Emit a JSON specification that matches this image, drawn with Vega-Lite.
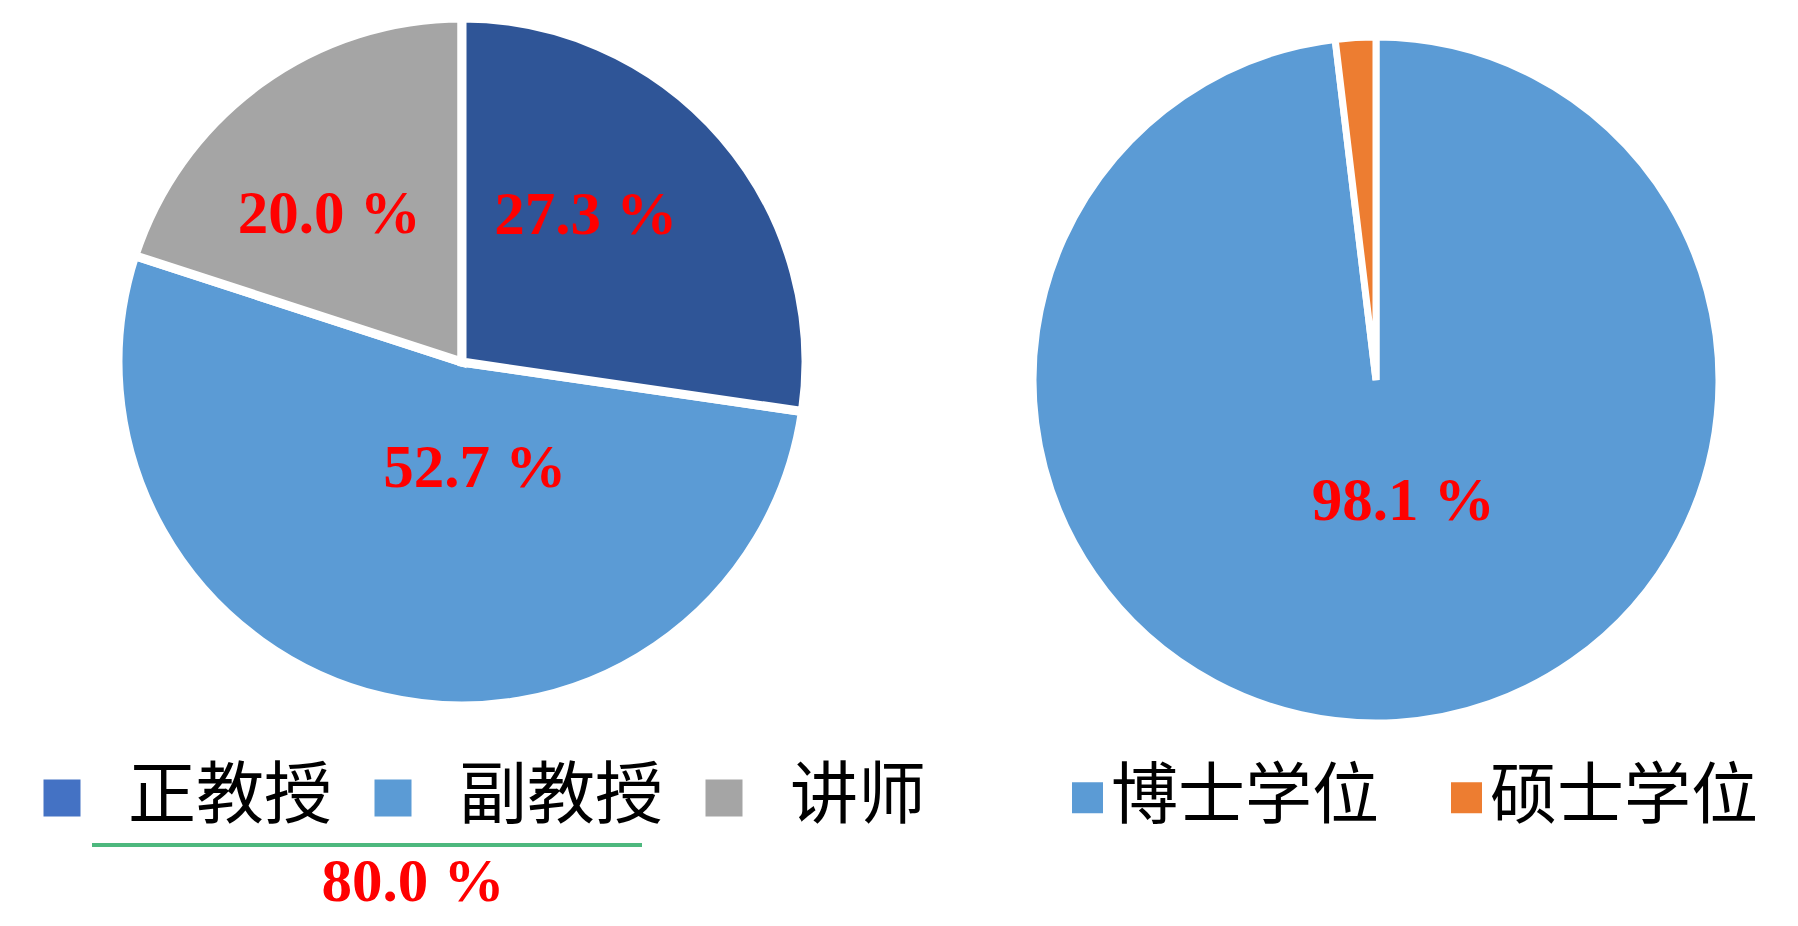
{
  "$schema": "https://vega.github.io/schema/vega-lite/v6.json",
  "background": "white",
  "padding": 0,
  "spacing": 30,
  "bounds": "flush",
  "config": {"view": {"stroke": null}, "font": "Noto Sans CJK SC"},
  "resolve": {"scale": {"color": "independent"}, "legend": {"color": "independent"}},
  "hconcat": [
    {
      "width": 924,
      "height": 724,
      "layer": [
        {
          "data": {"name": "zhicheng"},
          "mark": {"type": "arc", "radius": 344, "stroke": "white", "strokeWidth": 9},
          "encoding": {
            "theta": {"field": "占比", "type": "quantitative", "stack": true},
            "order": {"field": "序号", "type": "quantitative"},
            "color": {
              "field": "职称",
              "type": "nominal",
              "scale": {"domain": ["正教授", "副教授", "讲师"], "range": ["#4472C4", "#5B9BD5", "#A5A5A5"]},
              "legend": {
                "title": null,
                "orient": "none",
                "legendX": 28,
                "legendY": 764,
                "direction": "horizontal",
                "symbolType": "square",
                "symbolSize": 1369,
                "symbolStrokeWidth": 0,
                "symbolOpacity": 1,
                "labelFont": "Noto Sans CJK SC",
                "labelFontSize": 68,
                "labelColor": "#000000",
                "labelLimit": 500,
                "labelOffset": 32,
                "columnPadding": 26
              }
            }
          }
        },
        {
          "data": {"name": "zhicheng"},
          "mark": {"type": "arc", "radius": 344, "stroke": "white", "strokeWidth": 9},
          "encoding": {
            "theta": {"field": "占比", "type": "quantitative", "stack": true},
            "order": {"field": "序号", "type": "quantitative"},
            "color": {"value": "#2F5597"},
            "opacity": {"condition": {"test": "datum['职称'] === '正教授'", "value": 1}, "value": 0}
          }
        },
        {
          "data": {"name": "zhicheng"},
          "mark": {"type": "text", "radius": 190, "dx": -20, "dy": -22, "font": "Liberation Serif", "fontWeight": "bold", "fontSize": 61, "align": "center", "baseline": "middle"},
          "encoding": {
            "theta": {"field": "占比", "type": "quantitative", "stack": true},
            "order": {"field": "序号", "type": "quantitative"},
            "text": {"field": "标签", "type": "nominal"},
            "color": {"value": "#FF0000"},
            "opacity": {"condition": {"test": "datum['职称'] === '正教授'", "value": 1}, "value": 0}
          }
        },
        {
          "data": {"name": "zhicheng"},
          "mark": {"type": "text", "radius": 111, "dx": 38, "dy": -1, "font": "Liberation Serif", "fontWeight": "bold", "fontSize": 61, "align": "center", "baseline": "middle"},
          "encoding": {
            "theta": {"field": "占比", "type": "quantitative", "stack": true},
            "order": {"field": "序号", "type": "quantitative"},
            "text": {"field": "标签", "type": "nominal"},
            "color": {"value": "#FF0000"},
            "opacity": {"condition": {"test": "datum['职称'] === '副教授'", "value": 1}, "value": 0}
          }
        },
        {
          "data": {"name": "zhicheng"},
          "mark": {"type": "text", "radius": 197, "dx": -17, "dy": 12, "font": "Liberation Serif", "fontWeight": "bold", "fontSize": 61, "align": "center", "baseline": "middle"},
          "encoding": {
            "theta": {"field": "占比", "type": "quantitative", "stack": true},
            "order": {"field": "序号", "type": "quantitative"},
            "text": {"field": "标签", "type": "nominal"},
            "color": {"value": "#FF0000"},
            "opacity": {"condition": {"test": "datum['职称'] === '讲师'", "value": 1}, "value": 0}
          }
        },
        {
          "data": {"name": "heji"},
          "mark": {"type": "rule", "color": "#4DB87E", "strokeWidth": 4},
          "encoding": {
            "x": {"value": 92},
            "x2": {"value": 642},
            "y": {"value": 845}
          }
        },
        {
          "data": {"name": "heji"},
          "mark": {"type": "text", "font": "Liberation Serif", "fontWeight": "bold", "fontSize": 61, "align": "center", "baseline": "middle", "color": "#FF0000"},
          "encoding": {
            "x": {"value": 413},
            "y": {"value": 883},
            "text": {"field": "标签", "type": "nominal"}
          }
        }
      ]
    },
    {
      "width": 844,
      "height": 760,
      "data": {"name": "xuewei"},
      "layer": [
        {
          "mark": {"type": "arc", "radius": 343, "stroke": "white", "strokeWidth": 7},
          "encoding": {
            "theta": {"field": "占比", "type": "quantitative", "stack": true},
            "order": {"field": "序号", "type": "quantitative"},
            "color": {
              "field": "学位",
              "type": "nominal",
              "scale": {"domain": ["博士学位", "硕士学位"], "range": ["#5B9BD5", "#ED7D31"]},
              "legend": {
                "title": null,
                "orient": "none",
                "legendX": 100,
                "legendY": 764,
                "direction": "horizontal",
                "symbolType": "square",
                "symbolSize": 961,
                "symbolStrokeWidth": 0,
                "symbolOpacity": 1,
                "labelFont": "Noto Sans CJK SC",
                "labelFontSize": 67,
                "labelColor": "#000000",
                "labelLimit": 500,
                "labelOffset": -10,
                "columnPadding": 54
              }
            }
          }
        },
        {
          "mark": {"type": "text", "radius": 122, "dx": 20, "dy": 0, "font": "Liberation Serif", "fontWeight": "bold", "fontSize": 61, "align": "center", "baseline": "middle"},
          "encoding": {
            "theta": {"field": "占比", "type": "quantitative", "stack": true},
            "order": {"field": "序号", "type": "quantitative"},
            "text": {"field": "标签", "type": "nominal"},
            "color": {"value": "#FF0000"},
            "opacity": {"condition": {"test": "datum['学位'] === '博士学位'", "value": 1}, "value": 0}
          }
        }
      ]
    }
  ],
  "datasets": {
    "zhicheng": [
      {"职称": "正教授", "占比": 27.3, "序号": 1, "标签": "27.3 %"},
      {"职称": "副教授", "占比": 52.7, "序号": 2, "标签": "52.7 %"},
      {"职称": "讲师", "占比": 20.0, "序号": 3, "标签": "20.0 %"}
    ],
    "heji": [
      {"组合": "正教授+副教授", "占比": 80.0, "标签": "80.0 %"}
    ],
    "xuewei": [
      {"学位": "博士学位", "占比": 98.1, "序号": 1, "标签": "98.1 %"},
      {"学位": "硕士学位", "占比": 1.9, "序号": 2, "标签": "1.9 %"}
    ]
  }
}
